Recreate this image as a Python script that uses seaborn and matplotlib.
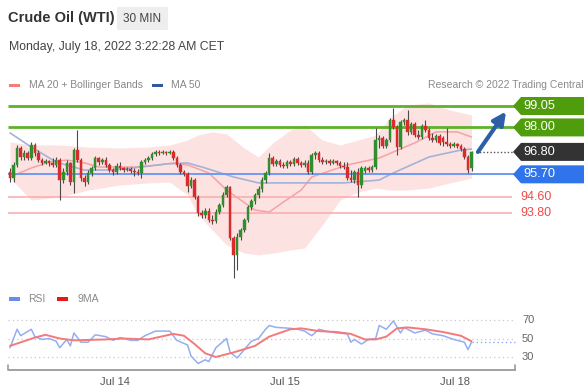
import numpy as np
import pandas as pd
import seaborn as sns
import matplotlib
matplotlib.use("Agg")
import matplotlib.pyplot as plt
from matplotlib.patches import Polygon, Rectangle
from matplotlib import transforms

# ---------------- data ----------------
opens = [95.81, 95.52, 96.16, 96.99, 96.55, 96.75, 96.50, 97.14, 96.75, 96.40,
         96.26, 96.35, 96.26, 96.16, 96.40, 95.42, 95.81, 96.26, 95.32, 96.89,
         96.40, 95.52, 95.32, 95.77, 96.01, 96.50, 96.30, 96.40, 96.16, 95.91,
         95.81, 96.11, 96.01, 95.91, 95.96, 95.86, 95.81, 95.77, 96.30, 96.40,
         96.50, 96.70, 96.80, 96.75, 96.80, 96.75, 96.80, 96.50, 96.16, 95.81,
         95.72, 95.13, 95.42, 94.59, 93.80, 93.71, 93.90, 93.46, 93.41, 93.85,
         94.20, 94.69, 95.08, 92.58, 91.75, 92.63, 92.97, 93.46, 94.10, 94.39,
         94.69, 94.98, 95.42, 95.77, 96.50, 96.21, 96.35, 96.16, 96.11, 96.30,
         96.21, 96.45, 96.26, 96.16, 96.26, 95.81, 96.65, 96.75, 96.40, 96.30,
         96.35, 96.26, 96.35, 96.26, 96.11, 96.06, 95.52, 95.42, 95.81, 95.18,
         95.86, 96.01, 95.91, 96.06, 97.38, 97.48, 97.09, 97.38, 98.36, 98.02,
         97.04, 98.27, 98.36, 97.78, 98.17, 97.63, 97.53, 98.07, 97.87, 97.48,
         97.38, 97.58, 97.48, 97.29, 97.19, 97.09, 97.19, 97.09, 96.94, 96.55,
         96.01]
highs = [96.01, 96.30, 97.14, 97.09, 96.89, 96.84, 97.29, 97.24, 96.89, 96.50,
         96.45, 96.40, 96.50, 96.55, 96.50, 96.01, 96.40, 96.30, 96.99, 97.87,
         96.50, 95.67, 95.91, 96.11, 96.60, 96.55, 96.50, 96.55, 96.26, 96.01,
         96.26, 96.30, 96.06, 96.06, 96.06, 96.01, 95.96, 96.40, 96.50, 96.60,
         96.80, 96.89, 96.89, 96.89, 96.84, 96.89, 96.89, 96.60, 96.26, 95.91,
         95.81, 95.57, 95.52, 94.69, 93.95, 94.05, 94.05, 93.71, 94.00, 94.29,
         94.83, 95.18, 95.13, 92.68, 92.82, 93.07, 93.56, 94.20, 94.49, 94.78,
         95.13, 95.57, 95.86, 96.75, 96.60, 96.45, 96.45, 96.30, 96.40, 96.40,
         96.55, 96.55, 96.35, 96.40, 96.40, 96.75, 96.84, 96.84, 96.55, 96.45,
         96.45, 96.45, 96.40, 96.35, 96.30, 96.30, 95.91, 95.91, 96.01, 96.11,
         96.11, 96.11, 96.16, 97.97, 97.63, 97.58, 97.48, 98.46, 98.95, 98.12,
         98.36, 98.46, 98.85, 98.27, 98.27, 97.87, 98.17, 98.36, 97.97, 97.73,
         97.68, 97.68, 97.58, 97.97, 97.29, 97.29, 97.24, 97.19, 97.04, 96.65,
         96.84]
lows = [95.32, 95.32, 96.06, 96.40, 96.40, 96.40, 96.40, 96.60, 96.30, 96.16,
        96.21, 96.11, 96.06, 96.06, 94.44, 95.28, 95.67, 95.18, 94.78, 96.30,
        95.37, 95.13, 95.23, 95.62, 95.91, 96.16, 96.21, 96.06, 95.81, 95.67,
        95.72, 95.91, 95.81, 95.86, 95.77, 95.62, 95.67, 95.52, 96.21, 96.30,
        96.40, 96.60, 96.65, 96.70, 96.65, 96.70, 96.40, 96.06, 95.72, 95.62,
        94.83, 95.03, 94.49, 93.66, 93.56, 93.56, 93.36, 93.27, 93.31, 93.76,
        94.10, 94.59, 92.48, 90.62, 91.01, 92.48, 92.87, 93.36, 93.95, 94.25,
        94.54, 94.83, 95.28, 95.67, 96.11, 96.11, 96.06, 96.01, 96.01, 96.11,
        96.11, 96.16, 96.06, 96.06, 95.72, 95.72, 96.45, 96.30, 96.21, 96.21,
        96.16, 96.21, 96.16, 96.01, 95.96, 95.42, 95.32, 95.28, 94.59, 95.03,
        95.77, 95.81, 95.81, 95.96, 96.99, 96.99, 96.99, 97.29, 97.92, 96.65,
        96.94, 98.12, 97.63, 97.68, 97.53, 97.43, 97.43, 97.78, 97.38, 97.29,
        97.29, 97.14, 97.09, 97.09, 96.99, 97.04, 96.99, 96.84, 96.45, 95.77,
        95.86]
closes = [95.52, 96.16, 96.99, 96.55, 96.75, 96.50, 97.14, 96.75, 96.40, 96.26,
          96.35, 96.26, 96.16, 96.40, 95.42, 95.81, 96.26, 95.32, 96.89, 96.40,
          95.52, 95.32, 95.77, 96.01, 96.50, 96.30, 96.40, 96.16, 95.91, 95.81,
          96.11, 96.01, 95.91, 95.96, 95.86, 95.81, 95.77, 96.30, 96.40, 96.50,
          96.70, 96.80, 96.75, 96.80, 96.75, 96.80, 96.50, 96.16, 95.81, 95.72,
          95.13, 95.42, 94.59, 93.80, 93.71, 93.90, 93.46, 93.41, 93.85, 94.20,
          94.69, 95.08, 92.58, 91.75, 92.63, 92.97, 93.46, 94.10, 94.39, 94.69,
          94.98, 95.42, 95.77, 96.50, 96.21, 96.35, 96.16, 96.11, 96.30, 96.21,
          96.45, 96.26, 96.16, 96.26, 95.81, 96.65, 96.75, 96.40, 96.30, 96.35,
          96.26, 96.35, 96.26, 96.11, 96.06, 95.52, 95.42, 95.81, 95.18, 96.01,
          96.01, 95.91, 96.06, 97.38, 97.48, 97.09, 97.38, 98.36, 98.02, 97.04,
          98.27, 98.36, 97.78, 98.17, 97.63, 97.53, 98.07, 97.87, 97.48, 97.38,
          97.58, 97.24, 97.29, 97.19, 97.09, 97.19, 97.09, 96.94, 96.55, 95.91,
          96.80]

ma50_idx = [0, 6, 13, 21, 28, 37, 44, 50, 55, 63, 70, 82, 94, 104, 108, 118, 127, 130]
ma50_val = [97.73, 97.04, 96.30, 95.91, 95.91, 96.06, 96.21, 96.26, 96.01, 95.57,
            95.28, 95.28, 95.28, 95.42, 95.77, 96.55, 96.89, 96.94]

ma20_idx = [0, 6, 11, 16, 21, 25, 35, 42, 46, 50, 56, 61, 65, 69, 73, 77, 82, 85,
            95, 104, 114, 120, 126, 130]
ma20_val = [95.57, 96.01, 96.30, 96.40, 96.26, 96.06, 96.06, 96.16, 96.26, 96.16,
            95.77, 94.93, 94.44, 93.95, 93.85, 94.34, 94.93, 95.57, 96.16, 96.50,
            97.24, 97.78, 97.78, 97.53]

band_idx = [0, 6, 14, 22, 31, 39, 45, 50, 53, 57, 61, 66, 70, 74, 79, 83, 88, 93,
            98, 103, 107, 112, 118, 124, 130]
band_hi = [97.29, 97.14, 97.14, 97.04, 96.99, 97.04, 97.14, 97.38, 97.63, 97.78,
           97.68, 96.99, 96.55, 97.24, 97.87, 98.12, 97.38, 97.14, 97.38, 97.63,
           98.46, 99.10, 99.20, 98.85, 98.61]
band_lo = [95.52, 94.44, 94.59, 94.93, 95.18, 95.28, 95.32, 94.69, 93.71, 92.97,
           92.24, 91.84, 91.75, 91.84, 91.99, 92.09, 93.22, 94.44, 94.83, 95.03,
           94.93, 94.93, 95.03, 95.28, 95.52]

rsi_idx = [0, 2, 3, 6, 7, 9, 11, 13, 14, 16, 17, 18, 20, 22, 24, 27, 29, 31, 34, 36,
           38, 41, 45, 47, 50, 51, 53, 55, 56, 58, 61, 62, 64, 66, 68, 70, 72, 73, 75,
           79, 81, 83, 85, 87, 89, 92, 95, 96, 97, 99, 101, 103, 104, 106, 108, 110,
           111, 114, 117, 119, 122, 125, 128, 129, 130]
rsi_val = [40, 60, 53, 60, 52, 49, 50, 47, 40, 49, 42, 56, 46, 46, 54, 52, 48, 51, 48, 48,
           53, 58, 58, 48, 43, 31, 23, 27, 25, 40, 50, 35, 29, 38, 47, 50, 60, 64, 62,
           61, 60, 58, 53, 60, 58, 56, 55, 46, 49, 44, 49, 50, 64, 60, 69, 56,
           62, 56, 59, 55, 53, 49, 46, 38, 46]

rsi_ma_idx = [0, 7, 10, 14, 18, 27, 32, 39, 46, 49, 52, 55, 58, 63, 69, 73, 79, 82,
              87, 92, 96, 100, 103, 106, 109, 112, 117, 122, 127, 130]
rsi_ma_val = [42, 51, 54, 50, 48, 49, 50, 49, 55, 53, 44, 34, 30, 35, 42, 52, 60, 61,
              58, 57, 55, 49, 49, 52, 61, 62, 60, 57, 53, 47]

levels_res = [99.05, 98.00]
level_now = 96.80
level_piv = 95.70
levels_sup = [94.60, 93.80]
arrow_target = 99.05

date_ticks = [29.6, 77.5, 125.4]
date_labels = ["Jul 14", "Jul 15", "Jul 18"]
rsi_ticks = [70, 50, 30]

# ---------------- style ----------------
sns.set_style("white")
plt.rcParams['font.family'] = ['Liberation Sans', 'DejaVu Sans']

W, H = 585, 391
fig = plt.figure(figsize=(W / 100, H / 100), dpi=100)
fig.patch.set_facecolor("white")

def fy(py):
    return 1 - py / H

P0, PPX = 99.05, 20.4
def ppx(py):
    return P0 - (py - 106) / PPX

XI = lambda px: (px - 10) / 3.55
xlo, xhi = XI(8), XI(W)

# ---------------- price panel ----------------
ax = fig.add_axes([8 / W, fy(285), (W - 8) / W, 190 / H])
ax.set_xlim(xlo, xhi)
ax.set_ylim(ppx(285), ppx(95))
ax.axis("off")

ax.fill_between(band_idx, band_lo, band_hi, color="#fde2e2", lw=0, zorder=1)
sns.lineplot(x=ma20_idx, y=ma20_val, ax=ax, color="#f4a3a3", lw=1.1, zorder=2, legend=False)
sns.lineplot(x=ma50_idx, y=ma50_val, ax=ax, color="#a3b3d8", lw=1.2, zorder=2, legend=False)

for lv in levels_res:
    ax.hlines(lv, xlo, XI(516), color="#5fb12b", lw=2.0, zorder=3)
ax.hlines(level_piv, xlo, XI(520), color="#6f9af2", lw=1.4, zorder=3)
for lv in levels_sup:
    ax.hlines(lv, xlo, XI(512), color="#f8aaaa", lw=1.1, zorder=3)
ax.hlines(level_now, XI(476), XI(514), color="#555555", lw=1.0,
          linestyles=(0, (1, 1.5)), zorder=3)

idx = np.arange(len(closes))
o = np.array(opens); c = np.array(closes)
hi = np.array(highs); lo = np.array(lows)
up = c >= o
ax.vlines(idx, lo, hi, color="#4a4a4a", lw=0.8, zorder=4)
body_h = np.maximum(np.abs(c - o), 0.03)
body_b = np.minimum(o, c)
ax.bar(idx[up], body_h[up], bottom=body_b[up], width=0.72, color="#2f8f2f",
       edgecolor="#2f8f2f", lw=0.3, zorder=5)
ax.bar(idx[~up], body_h[~up], bottom=body_b[~up], width=0.72, color="#d92b2b",
       edgecolor="#d92b2b", lw=0.3, zorder=5)

ax.annotate("", xy=(XI(506), arrow_target - 0.27), xytext=(XI(478), level_now),
            arrowprops=dict(arrowstyle="-|>", color="#2c5fa8", lw=3.0,
                            mutation_scale=19, shrinkA=0, shrinkB=0), zorder=6)

# ---------------- RSI panel ----------------
ax2 = fig.add_axes([8 / W, fy(370), (W - 8) / W, 60 / H])
ax2.set_xlim(xlo, xhi)
r70y, r30y = 320, 357
rpx = (r30y - r70y) / 40.0
rv = lambda py: 70 - (py - r70y) / rpx
ax2.set_ylim(rv(370), rv(310))
for s in ["top", "left", "right"]:
    ax2.spines[s].set_visible(False)
ax2.spines["bottom"].set_color("#9a9a9a")
ax2.spines["bottom"].set_linewidth(1.3)
ax2.spines["bottom"].set_bounds(xlo + 0.2, XI(515))
ax2.set_yticks([])
ax2.set_xticks(date_ticks)
ax2.set_xticklabels(date_labels)
ax2.tick_params(axis="x", length=0, pad=5, labelsize=8, labelcolor="#555555")
ax2.set_facecolor("none")

ax2.hlines(rsi_ticks, xlo, XI(515), color="#c8c8c8", lw=0.9, linestyles=(0, (1, 2.5)))
sns.lineplot(x=rsi_idx, y=rsi_val, ax=ax2, color="#94aef2", lw=1.1, legend=False)
sns.lineplot(x=rsi_ma_idx, y=rsi_ma_val, ax=ax2, color="#f47a7a", lw=1.4, legend=False)
ax2.hlines(rsi_val[-1], rsi_idx[-1], XI(515), color="#8eaaf2", lw=1.0,
           linestyles=(0, (1, 2)))
ax2.set_xlabel(""); ax2.set_ylabel("")

# ---------------- overlay ----------------
ov = fig.add_axes([0, 0, 1, 1], zorder=10)
ov.set_xlim(0, W); ov.set_ylim(H, 0); ov.axis("off"); ov.patch.set_alpha(0)

ov.text(8, 18, "Crude Oil (WTI)", fontsize=10.5, fontweight="bold", color="#333333",
        va="center", ha="left")
ov.add_patch(Rectangle((117, 7), 51, 23, color="#eeeeee", lw=0))
ov.text(142.5, 18.5, "30 MIN", fontsize=8.5, color="#444444", va="center", ha="center")
ov.text(9, 47, "Monday, July 18, 2022 3:22:28 AM CET", fontsize=8.8, color="#444444",
        va="center", ha="left")

ov.add_patch(Rectangle((9, 84), 11, 3, color="#f77b7b", lw=0))
ov.text(29, 85.5, "MA 20 + Bollinger Bands", fontsize=7.5, color="#888888", va="center")
ov.add_patch(Rectangle((152, 84), 11, 3, color="#2f5aa0", lw=0))
ov.text(171, 85.5, "MA 50", fontsize=7.5, color="#888888", va="center")
ov.text(583, 85.5, "Research \u00a9 2022 Trading Central", fontsize=7.5, color="#8a8a8a",
        va="center", ha="right")

ov.add_patch(Rectangle((9, 297), 11, 4, color="#6a8ee8", lw=0))
ov.text(28, 299, "RSI", fontsize=7.5, color="#888888", va="center")
ov.add_patch(Rectangle((57, 297), 11, 4, color="#e81818", lw=0))
ov.text(77, 299, "9MA", fontsize=7.5, color="#888888", va="center")

ov.plot([8, 8], [365, 370], color="#9a9a9a", lw=1.2)
ov.plot([515, 515], [365, 370], color="#9a9a9a", lw=1.2)

tr2 = transforms.blended_transform_factory(ov.transData, ax2.transData)
for t in rsi_ticks:
    ax2.text(522, t, str(t), transform=tr2, fontsize=8, color="#666666", va="center",
             ha="left", clip_on=False)

tr = transforms.blended_transform_factory(ov.transData, ax.transData)
hh = 9 / PPX
def tag(price, color, text_color="white"):
    verts = [(513, price), (521, price + hh), (584, price + hh), (584, price - hh),
             (521, price - hh)]
    ax.add_patch(Polygon(verts, closed=True, transform=tr, color=color, lw=0,
                         clip_on=False, zorder=7))
    ax.text(523, price, f"{price:.2f}", transform=tr, fontsize=9.2, color=text_color,
            va="center", ha="left", clip_on=False, zorder=8)

for lv in levels_res:
    tag(lv, "#4f9d0d")
tag(level_now, "#333333")
tag(level_piv, "#2f74ea")
for lv in levels_sup:
    ax.text(520, lv, f"{lv:.2f}", transform=tr, fontsize=9, color="#f04a4a",
            va="center", ha="left", clip_on=False)

fig.savefig("out.png", dpi=100)
